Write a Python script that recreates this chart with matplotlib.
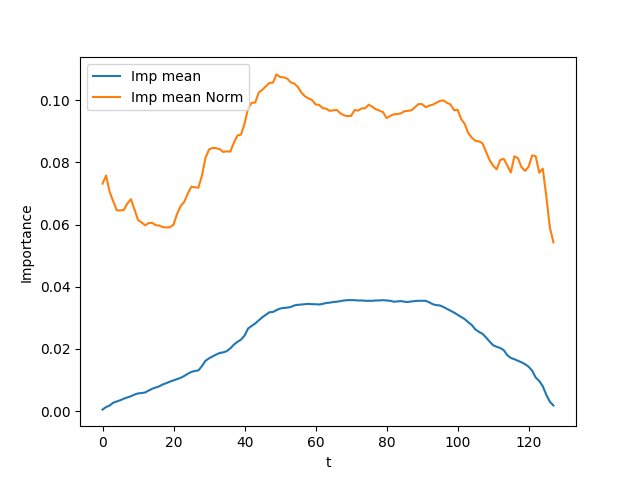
import matplotlib
matplotlib.use("Agg")
import matplotlib.pyplot as plt
import numpy as np

imp_mean = [
    0.0005, 0.0013, 0.0018, 0.0027, 0.0031, 0.0035, 0.0040, 0.0044, 0.0048, 0.0053,
    0.0057, 0.0058, 0.0060, 0.0066, 0.0072, 0.0076, 0.0080, 0.0086, 0.0090, 0.0095,
    0.0099, 0.0103, 0.0107, 0.0113, 0.0120, 0.0126, 0.0129, 0.0131, 0.0145, 0.0162,
    0.0170, 0.0176, 0.0182, 0.0187, 0.0189, 0.0193, 0.0202, 0.0214, 0.0223, 0.0230,
    0.0243, 0.0266, 0.0274, 0.0282, 0.0292, 0.0302, 0.0310, 0.0318, 0.0319, 0.0325,
    0.0330, 0.0332, 0.0333, 0.0335, 0.0340, 0.0342, 0.0343, 0.0344, 0.0345, 0.0344,
    0.0344, 0.0343, 0.0345, 0.0348, 0.0349, 0.0351, 0.0352, 0.0354, 0.0356, 0.0357,
    0.0357, 0.0357, 0.0356, 0.0356, 0.0355, 0.0355, 0.0355, 0.0356, 0.0356, 0.0357,
    0.0356, 0.0355, 0.0352, 0.0353, 0.0354, 0.0352, 0.0351, 0.0353, 0.0354, 0.0355,
    0.0355, 0.0355, 0.0350, 0.0344, 0.0341, 0.0340, 0.0335, 0.0329, 0.0323, 0.0317,
    0.0310, 0.0303, 0.0296, 0.0286, 0.0277, 0.0263, 0.0255, 0.0249, 0.0237, 0.0224,
    0.0212, 0.0207, 0.0203, 0.0196, 0.0180, 0.0171, 0.0167, 0.0162, 0.0157, 0.0151,
    0.0143, 0.0130, 0.0108, 0.0097, 0.0080, 0.0052, 0.0030, 0.0018,
]

imp_mean_norm = [
    0.0732, 0.0758, 0.0705, 0.0675, 0.0646, 0.0646, 0.0647, 0.0668, 0.0682, 0.0648,
    0.0615, 0.0607, 0.0598, 0.0605, 0.0606, 0.0598, 0.0597, 0.0592, 0.0591, 0.0592,
    0.0600, 0.0635, 0.0660, 0.0673, 0.0700, 0.0722, 0.0720, 0.0719, 0.0758, 0.0815,
    0.0842, 0.0847, 0.0846, 0.0843, 0.0834, 0.0836, 0.0835, 0.0864, 0.0887, 0.0890,
    0.0925, 0.0975, 0.0992, 0.0993, 0.1025, 0.1034, 0.1045, 0.1056, 0.1057, 0.1084,
    0.1075, 0.1074, 0.1070, 0.1058, 0.1054, 0.1043, 0.1025, 0.1013, 0.1006, 0.1001,
    0.0987, 0.0985, 0.0975, 0.0973, 0.0966, 0.0968, 0.0969, 0.0958, 0.0952, 0.0949,
    0.0950, 0.0969, 0.0967, 0.0974, 0.0975, 0.0986, 0.0979, 0.0971, 0.0967, 0.0962,
    0.0943, 0.0950, 0.0955, 0.0956, 0.0958, 0.0965, 0.0966, 0.0968, 0.0978, 0.0988,
    0.0988, 0.0978, 0.0983, 0.0986, 0.0992, 0.0998, 0.1000, 0.0992, 0.0987, 0.0968,
    0.0970, 0.0940, 0.0924, 0.0895, 0.0880, 0.0870, 0.0868, 0.0862, 0.0835, 0.0808,
    0.0790, 0.0778, 0.0808, 0.0812, 0.0790, 0.0768, 0.0820, 0.0814, 0.0785, 0.0773,
    0.0786, 0.0823, 0.0820, 0.0767, 0.0780, 0.0690, 0.0590, 0.0543,
]

t = np.arange(len(imp_mean))

fig, ax = plt.subplots(figsize=(6.4, 4.79), dpi=100)
ax.plot(t, imp_mean, label="Imp mean")
ax.plot(t, imp_mean_norm, label="Imp mean Norm")
ax.set_xlabel("t")
ax.set_ylabel("Importance")
ax.legend(loc="upper left")
fig.savefig("out.png", dpi=100)
